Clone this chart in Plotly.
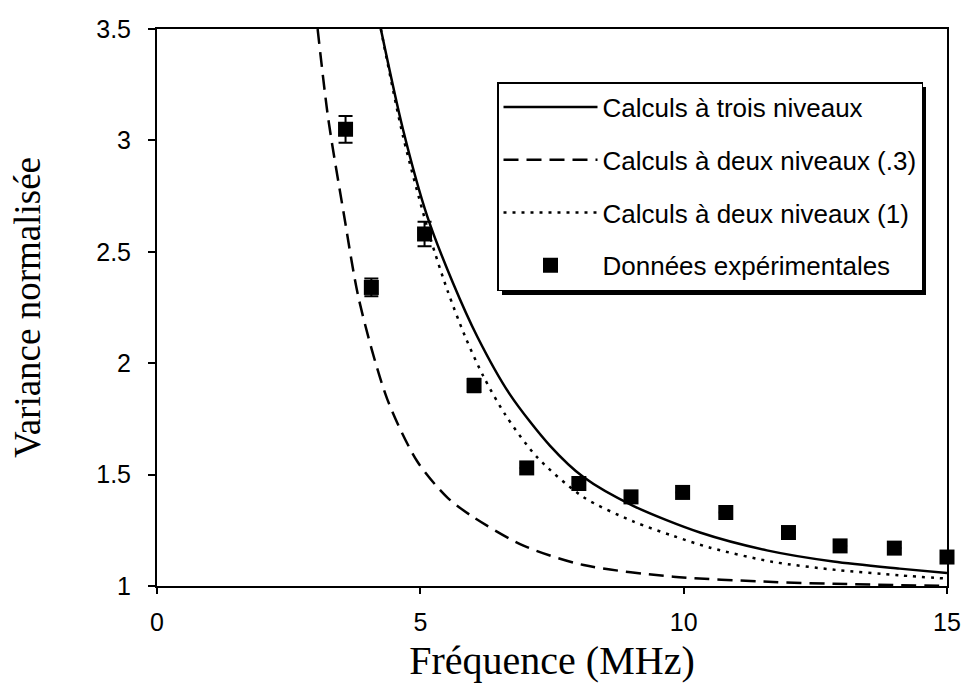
import plotly.graph_objects as go

# Experimental data
exp_x = [3.58, 4.07, 5.08, 6.02, 7.02, 8.01, 9.0, 9.98, 10.8, 11.99, 12.97, 14.0, 15.0]
exp_y = [3.05, 2.34, 2.58, 1.90, 1.53, 1.46, 1.40, 1.42, 1.33, 1.24, 1.18, 1.17, 1.13]
exp_err = [0.06, 0.04, 0.055, 0.03, 0, 0, 0, 0, 0, 0, 0, 0, 0]

# Three-level calculation (solid)
three_x = [4.25, 4.67, 5.13, 5.62, 6.08, 6.7, 7.46, 8.09, 9.04, 10.31, 11.58, 12.84, 14.1, 15.0]
three_y = [3.5, 3.05, 2.66, 2.36, 2.12, 1.86, 1.63, 1.49, 1.36, 1.24, 1.16, 1.11, 1.078, 1.058]

# Two-level calculation (.3) (dashed)
two03_x = [3.05, 3.25, 3.54, 3.84, 4.37, 4.94, 5.5, 6.0, 6.97, 8.1, 9.8, 11.7, 12.84, 15.0]
two03_y = [3.5, 3.10, 2.68, 2.28, 1.84, 1.56, 1.40, 1.31, 1.18, 1.094, 1.042, 1.018, 1.01, 1.0]

# Two-level calculation (1) (dotted)
two1_x = [4.25, 4.67, 5.18, 5.51, 5.85, 6.2, 6.61, 7.21, 8.09, 9.04, 9.8, 10.5, 11.7, 12.9, 14.1, 15.0]
two1_y = [3.5, 3.02, 2.57, 2.33, 2.12, 1.94, 1.77, 1.58, 1.40, 1.29, 1.225, 1.172, 1.108, 1.072, 1.048, 1.033]

names = ["Calculs à trois niveaux", "Calculs à deux niveaux (.3)",
         "Calculs à deux niveaux (1)", "Données expérimentales"]

x_ticks = [0, 5, 10, 15]
y_ticks = [1, 1.5, 2, 2.5, 3, 3.5]
y_ticklabels = ["1", "1.5", "2", "2.5", "3", "3.5"]

W, H = 967, 683
ML, MR, MT, MB = 157, 20, 29, 97
PW, PH = W - ML - MR, H - MT - MB

def px_x(p):
    return (p - ML) / PW

def px_y(p):
    return (H - MB - p) / PH

fig = go.Figure()
fig.add_trace(go.Scatter(x=three_x, y=three_y, mode="lines", name=names[0],
                         line=dict(color="black", width=2.5, shape="spline", smoothing=0.8),
                         legendgroup="a"))
fig.add_trace(go.Scatter(x=two03_x, y=two03_y, mode="lines", name=names[1],
                         line=dict(color="black", width=2.5, dash="15px,8px", shape="spline", smoothing=0.8),
                         legendgroup="b"))
fig.add_trace(go.Scatter(x=two1_x, y=two1_y, mode="lines", name=names[2],
                         line=dict(color="black", width=2.5, dash="3px,6px", shape="spline", smoothing=0.8),
                         legendgroup="c"))
fig.add_trace(go.Scatter(x=exp_x, y=exp_y, mode="markers", name=names[3],
                         marker=dict(symbol="square", size=15, color="black"),
                         error_y=dict(type="data", array=exp_err, visible=True,
                                      color="black", thickness=2, width=7),
                         cliponaxis=False, legendgroup="d"))

# legend shadow
fig.add_shape(type="rect", xref="paper", yref="paper",
              x0=px_x(502), x1=px_x(926), y0=px_y(295), y1=px_y(87),
              fillcolor="black", line=dict(width=0), layer="above")

fig.update_layout(
    width=W, height=H,
    margin=dict(l=ML, r=MR, t=MT, b=MB, autoexpand=False),
    paper_bgcolor="white", plot_bgcolor="white",
    showlegend=True,
    legend=dict(x=px_x(497), y=px_y(82), xanchor="left", yanchor="top",
                bgcolor="white", bordercolor="black", borderwidth=1.5,
                font=dict(family="Liberation Sans, Arial", size=26, color="black"),
                itemwidth=94, tracegroupgap=16),
    xaxis=dict(range=[0, 15], tickvals=x_ticks, ticktext=[str(v) for v in x_ticks],
               showgrid=False, zeroline=False, showline=True, linecolor="black", linewidth=2,
               mirror=True, ticks="outside", ticklen=6, tickcolor="black", tickwidth=1.5,
               tickfont=dict(family="Liberation Sans, Arial", size=25, color="black"),
               ticklabelstandoff=7,
               title=dict(text="Fréquence (MHz)", standoff=11,
                          font=dict(family="Liberation Serif, Times New Roman", size=40, color="black"))),
    yaxis=dict(range=[1, 3.5], tickvals=y_ticks, ticktext=y_ticklabels,
               showgrid=False, zeroline=False, showline=True, linecolor="black", linewidth=2,
               mirror=True, ticks="outside", ticklen=7, tickcolor="black", tickwidth=1.5,
               tickfont=dict(family="Liberation Sans, Arial", size=25, color="black"),
               ticklabelstandoff=12,
               title=dict(text="Variance normalisée", standoff=44,
                          font=dict(family="Liberation Serif, Times New Roman", size=37, color="black"))),
)

fig.write_html("out.html", config={"displayModeBar": False},
               post_script="document.body.style.margin='0';")
